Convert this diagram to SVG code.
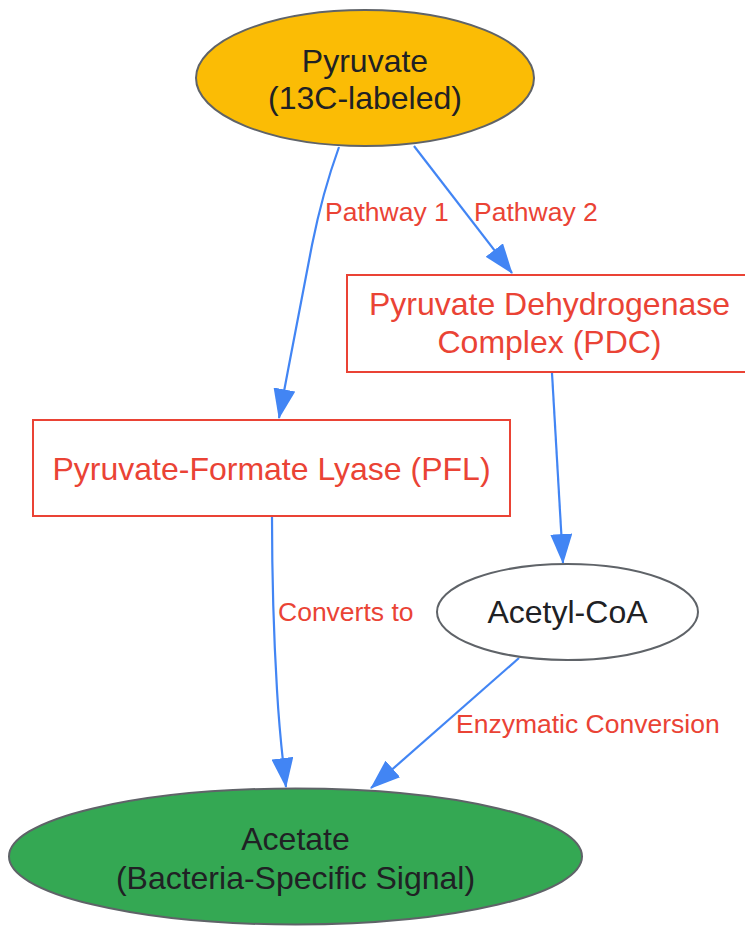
<svg xmlns="http://www.w3.org/2000/svg" width="745" height="926" viewBox="0 0 745 926">
<defs>
<marker id="arr" markerUnits="userSpaceOnUse" markerWidth="30" markerHeight="22" viewBox="0 0 30 22" refX="29" refY="11" orient="auto">
<path d="M0,0 L30,11 L0,22 z" fill="#4285F4"/>
</marker>
<style>
.node text{font-family:"Liberation Sans",Arial,sans-serif;font-size:32px;text-anchor:middle}
.dark{fill:#202124}
.red{fill:#EA4335}
.ell{stroke:#5f6368;stroke-width:2}
.box{fill:#ffffff;stroke:#EA4335;stroke-width:2}
.edge{fill:none;stroke:#4285F4;stroke-width:2.2;marker-end:url(#arr)}
.lbl{font-family:"Liberation Sans",Arial,sans-serif;font-size:26.5px;fill:#EA4335}
</style>
</defs>
<rect width="745" height="926" fill="#ffffff"/>
<g id="connectors">
<path class="edge" d="M339,147 C326,183 318,215 312,245 C301,300 290,360 279,418"/>
<path class="edge" d="M414,146 L512,273"/>
<path class="edge" d="M552,373 L563,563"/>
<path class="edge" d="M272,517 C272,580 274,640 277,690 C279,725 282,755 286,787"/>
<path class="edge" d="M519,658 L371,788"/>
<text class="lbl" x="325" y="221">Pathway 1</text>
<text class="lbl" x="474" y="221">Pathway 2</text>
<text class="lbl" x="278" y="621">Converts to</text>
<text class="lbl" x="456" y="733">Enzymatic Conversion</text>
</g>
<g id="pyruvate" class="node">
<ellipse class="ell" cx="365" cy="78" rx="169" ry="68" fill="#FBBC05"/>
<text class="dark" x="365" y="72">Pyruvate</text>
<text class="dark" x="365" y="109">(13C-labeled)</text>
</g>
<g id="pdc" class="node">
<rect class="box" x="347" y="275" width="405" height="97"/>
<text class="red" x="549.5" y="315">Pyruvate Dehydrogenase</text>
<text class="red" x="549.5" y="353">Complex (PDC)</text>
</g>
<g id="pfl" class="node">
<rect class="box" x="33" y="420" width="477" height="96"/>
<text class="red" x="271.5" y="480">Pyruvate-Formate Lyase (PFL)</text>
</g>
<g id="acetylcoa" class="node">
<ellipse class="ell" cx="567.5" cy="612" rx="130.5" ry="48" fill="#ffffff"/>
<text class="dark" x="567.5" y="623">Acetyl-CoA</text>
</g>
<g id="acetate" class="node">
<ellipse class="ell" cx="295.5" cy="856.5" rx="286.5" ry="68" fill="#34A853"/>
<text class="dark" x="295.5" y="850">Acetate</text>
<text class="dark" x="295.5" y="889">(Bacteria-Specific Signal)</text>
</g>
</svg>
